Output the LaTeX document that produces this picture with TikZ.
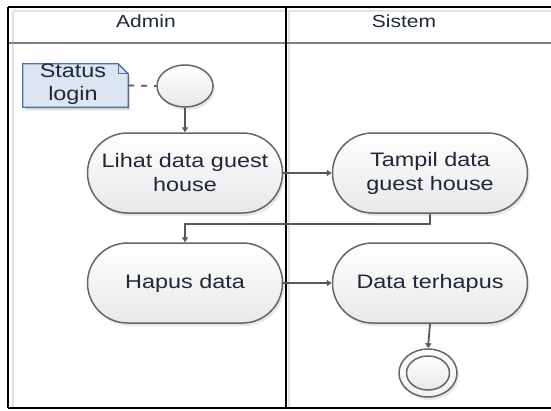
\documentclass[tikz,border=0pt]{standalone}
\usepackage{fontspec}
\setmainfont{Liberation Sans}
\usetikzlibrary{shapes.geometric, shadows, arrows.meta}
\definecolor{txt}{HTML}{1F2838}
\definecolor{edge}{HTML}{666666}
\definecolor{wire}{HTML}{585858}
\definecolor{notefill}{HTML}{DCE6F2}
\definecolor{noteedge}{HTML}{4F6F9F}
\definecolor{inset}{HTML}{E2E2E2}
\definecolor{headline}{HTML}{808080}
% slightly widened lettering
\newcommand\wide[1]{\scalebox{1.2}[1]{#1}}

\begin{document}
\begin{tikzpicture}[x=1pt,y=-1pt,
  softshadow/.style={drop shadow={opacity=0.18, shadow xshift=2pt, shadow yshift=-3pt}},
  action/.style={draw=edge, line width=1.5pt, rounded corners=40pt,
    minimum width=195pt, minimum height=80pt, top color=white, bottom color=black!9,
    softshadow, text=txt, font=\fontsize{19.5}{24}\selectfont, align=center, inner sep=0pt},
  startnode/.style={ellipse, draw=edge, line width=1.5pt, minimum width=56pt,
    minimum height=42pt, top color=white, bottom color=black!9, softshadow, inner sep=0pt},
  endring/.style={ellipse, draw=edge, line width=1.5pt, minimum width=#1, inner sep=0pt},
  flow/.style={draw=wire, line width=1.8pt, -{Triangle[width=6pt,length=5pt]}},
  lanetitle/.style={text=txt, font=\fontsize{17.5}{20}\selectfont},
  frameline/.style={line width=2.8pt, black},
]
\useasboundingbox (0,0) rectangle (551,410);

% swimlane frame
\draw[inset, line width=2.5pt] (13,11) -- (13,408);
\draw[inset, line width=2.5pt] (289,11) -- (289,408);
\draw[inset, line width=2.5pt] (13,11) -- (551,11);
\draw[headline, line width=2.6pt] (8,43) -- (551,43);
\draw[frameline] (8,7) -- (551,7);
\draw[frameline] (8,408) -- (551,408);
\draw[frameline] (8,7) -- (8,408);
\draw[frameline] (286,7) -- (286,408);

\node[lanetitle] (adminlane) at (146,21) {\wide{Admin}};
\node[lanetitle] (sistemlane) at (404,21) {\wide{Sistem}};

% note attached to the initial node
\node[minimum width=105pt, minimum height=43pt, inner sep=0pt] (note) at (75.5,85.5) {};
\fill[black, opacity=0.15] ([xshift=2pt,yshift=-3pt]note.north west) -- ([xshift=-8pt,yshift=-3pt]note.north east)
  -- ([xshift=2pt,yshift=-13pt]note.north east) -- ([xshift=2pt,yshift=-3pt]note.south east)
  -- ([xshift=2pt,yshift=-3pt]note.south west) -- cycle;
\draw[noteedge, fill=notefill, line width=1.3pt] (note.north west) -- ([xshift=-10pt]note.north east)
  -- ([yshift=-10pt]note.north east) -- (note.south east) -- (note.south west) -- cycle;
\draw[noteedge, line width=1.3pt] ([xshift=-10pt]note.north east) -- ([xshift=-10pt,yshift=-10pt]note.north east)
  -- ([yshift=-10pt]note.north east);
\node[text=txt, font=\fontsize{19.5}{23}\selectfont, align=center] (notetext) at (73,84) {\wide{Status}\\\wide{login}};

% activity nodes
\node[startnode] (start) at (185,86) {};
\node[action] (lihat) at (185,173) {\wide{Lihat data guest}\\\wide{house}};
\node[action] (tampil) at (430,173) {\wide{Tampil data}\\\wide{guest house}};
\node[action] (hapus) at (185,283) {\wide{Hapus data}};
\node[action] (terhapus) at (430,283) {\wide{Data terhapus}};
\node[endring=58pt, minimum height=48pt, top color=white, bottom color=black!6, softshadow] (finish) at (428,373) {};
\node[endring=43pt, minimum height=34pt, top color=white, bottom color=black!9] (finishcore) at (428,373) {};

% connectors
\draw[wire, line width=1.8pt, dash pattern=on 6pt off 7pt] (note.east) -- (start.west);
\draw[flow] (start.south) -- (lihat.north);
\draw[flow] (lihat.east) -- (tampil.west);
\draw[flow] (tampil.south) -- ++(0,10) -| (hapus.north);
\draw[flow] (hapus.east) -- (terhapus.west);
\draw[flow] (terhapus.south) -- (finish.north);
\end{tikzpicture}
\end{document}
